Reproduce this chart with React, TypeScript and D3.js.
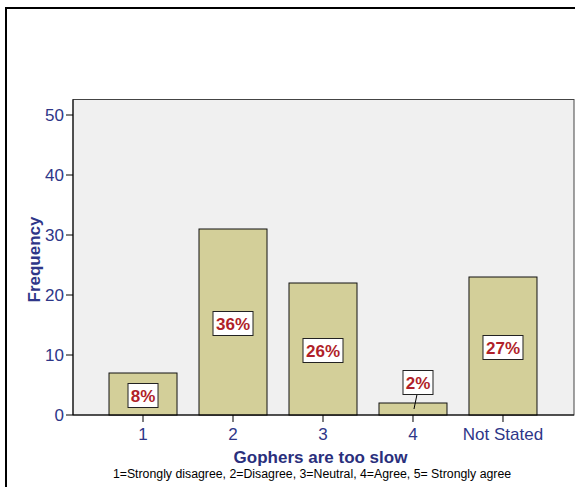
import React from "react";
import * as d3 from "d3";

const categories = ["1", "2", "3", "4", "Not Stated"];
const frequencies = [7, 31, 22, 2, 23];
const percentLabels = ["8%", "36%", "26%", "2%", "27%"];
const yTicks = [0, 10, 20, 30, 40, 50];

const W = 575;
const H = 487;
const plot = { left: 73, right: 574, top: 99.5, bottom: 415 };

const AXIS_COLOR = "#2e3688";
const RED = "#b01f29";
const FONT = "'Liberation Sans', Arial, sans-serif";

export default function App() {
  const x = d3
    .scalePoint<string>()
    .domain(categories)
    .range([plot.left, plot.right - 1])
    .padding(0.778);
  const y = d3.scaleLinear().domain([0, 52.6]).range([plot.bottom, plot.bottom - 52.6 * 6]);
  const barW = 68;

  return (
    <div style={{ position: "fixed", left: 0, top: 0 }}>
      <svg width={W} height={H} style={{ display: "block", fontFamily: FONT }}>
        <rect x={0} y={0} width={W} height={H} fill="#fff" />
        <rect x={6} y={8} width={700} height={700} fill="none" stroke="#000" strokeWidth={2} />
        {/* plot area */}
        <rect
          x={plot.left}
          y={plot.top}
          width={plot.right - plot.left}
          height={plot.bottom - plot.top}
          fill="#f0f0f0"
          stroke="#444"
          strokeWidth={1}
        />
        {/* bars */}
        {categories.map((c, i) => {
          const cx = x(c)!;
          const y0 = y(frequencies[i]);
          return (
            <rect
              key={c}
              x={cx - barW / 2}
              y={y0}
              width={barW}
              height={y(0) - y0}
              fill="#d3cf99"
              stroke="#111"
              strokeWidth={1}
            />
          );
        })}
        {/* axes lines */}
        <line x1={plot.left} x2={plot.left} y1={plot.top} y2={plot.bottom} stroke="#000" />
        <line x1={plot.left} x2={plot.right} y1={plot.bottom} y2={plot.bottom} stroke="#000" strokeWidth={1.2} />
        {/* y ticks */}
        {yTicks.map((t) => (
          <g key={t}>
            <line x1={plot.left - 7} x2={plot.left} y1={y(t)} y2={y(t)} stroke="#000" />
            <text
              x={plot.left - 9}
              y={y(t) + 6}
              textAnchor="end"
              fontSize={17}
              fill={AXIS_COLOR}
            >
              {t}
            </text>
          </g>
        ))}
        {/* x ticks */}
        {categories.map((c) => (
          <g key={c}>
            <line x1={x(c)!} x2={x(c)!} y1={plot.bottom} y2={plot.bottom + 7} stroke="#000" />
            <text x={x(c)!} y={440} textAnchor="middle" fontSize={17} fill={AXIS_COLOR}>
              {c}
            </text>
          </g>
        ))}
        {/* percentage labels */}
        {categories.map((c, i) => {
          const cx = x(c)!;
          const label = percentLabels[i];
          const bw = label.length === 3 ? 40 : 30;
          const bh = 24;
          const small = frequencies[i] < 4;
          const lx = small ? cx + 5 : cx;
          const ly = small ? 382.5 : (y(frequencies[i]) + y(0)) / 2 + 1.5;
          return (
            <g key={c}>
              {small && (
                <line x1={cx + 4} y1={ly + bh / 2} x2={cx + 1} y2={y(0) - 6} stroke="#000" />
              )}
              <rect
                x={lx - bw / 2}
                y={ly - bh / 2}
                width={bw}
                height={bh}
                fill="#fff"
                stroke="#222"
                strokeWidth={1}
              />
              <text
                x={lx}
                y={ly + 6}
                textAnchor="middle"
                fontSize={17}
                fontWeight="bold"
                fill={RED}
              >
                {label}
              </text>
            </g>
          );
        })}
        {/* axis titles */}
        <text
          transform={`translate(40, 259.5) rotate(-90)`}
          textAnchor="middle"
          fontSize={17}
          fontWeight="bold"
          fill={AXIS_COLOR}
        >
          Frequency
        </text>
        <text x={320.5} y={463} textAnchor="middle" fontSize={17} fontWeight="bold" fill="#2a2f7c">
          Gophers are too slow
        </text>
        <text x={312} y={478} textAnchor="middle" fontSize={12.3} fill="#000">
          1=Strongly disagree, 2=Disagree, 3=Neutral, 4=Agree, 5= Strongly agree
        </text>
      </svg>
    </div>
  );
}
